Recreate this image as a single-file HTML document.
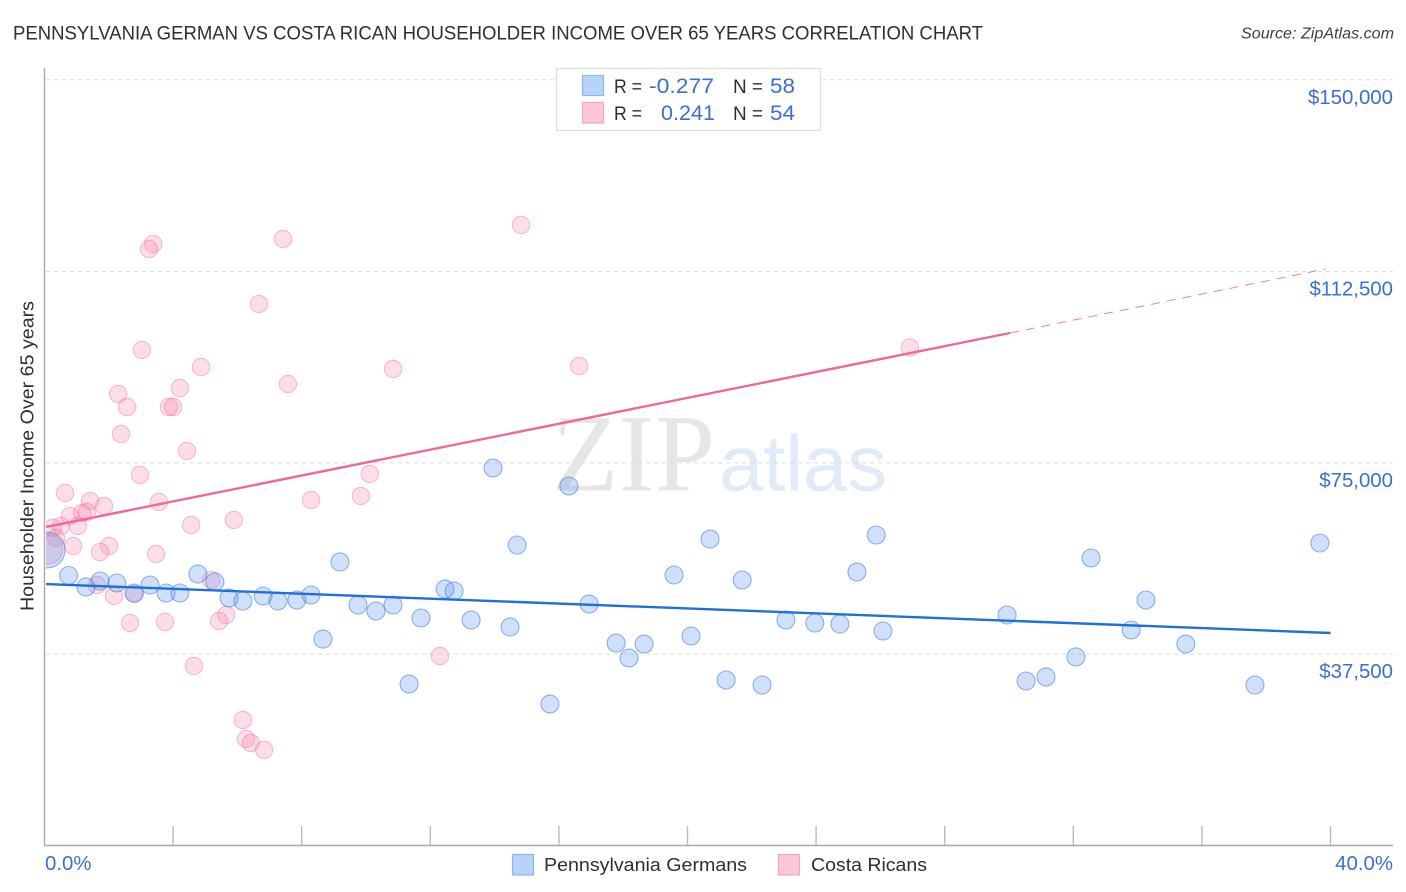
<!DOCTYPE html>
<html lang="en">
<head>
<meta charset="utf-8">
<title>Pennsylvania German vs Costa Rican Householder Income Over 65 Years Correlation Chart</title>
<style>
html,body{margin:0;padding:0;background:#fff;width:1406px;height:892px;overflow:hidden}
svg{display:block;font-family:"Liberation Sans",sans-serif}
</style>
</head>
<body>
<svg id="chart" xmlns="http://www.w3.org/2000/svg" width="1406" height="892" viewBox="0 0 1406 892">
  <defs><clipPath id="plot-clip"><rect x="46" y="60" width="1360" height="785"></rect></clipPath></defs>
  <text x="13" y="39.5" font-size="19.5" fill="#2b2f36" textLength="970" lengthAdjust="spacingAndGlyphs">PENNSYLVANIA GERMAN VS COSTA RICAN HOUSEHOLDER INCOME OVER 65 YEARS CORRELATION CHART</text>
  <text x="1241" y="38.5" font-size="15.5" font-style="italic" fill="#3a3f47" textLength="153" lengthAdjust="spacingAndGlyphs">Source: ZipAtlas.com</text>
  <g>
    <text x="552" y="490.5" font-family="'Liberation Serif',serif" font-size="110" fill="#e6e6e6" textLength="163" lengthAdjust="spacingAndGlyphs">ZIP</text>
    <text x="719" y="490.5" font-size="79" fill="#e1eaf8" textLength="168" lengthAdjust="spacingAndGlyphs">atlas</text>
  </g>
  <g id="grid"></g>
  <g id="axes"></g>
  <g id="points" clip-path="url(#plot-clip)"></g>
  <g id="trends"></g>
  <text transform="translate(33.5,456) rotate(-90)" text-anchor="middle" font-size="18.5" fill="#2b2f36" textLength="310" lengthAdjust="spacingAndGlyphs">Householder Income Over 65 years</text>
  <g>
    <rect x="556.5" y="68.5" width="264" height="62" fill="#fff" stroke="#dcdcdc" stroke-width="1.2"></rect>
    <rect x="582.5" y="75.5" width="21" height="20" fill="#b7d3f9" stroke="#8fb4ea" stroke-width="1.2"></rect>
    <rect x="582.5" y="102.5" width="21" height="20.5" fill="#fcc6d9" stroke="#f2a9c2" stroke-width="1.2"></rect>
    <text x="614" y="93" font-size="19" fill="#2b2f36" textLength="28" lengthAdjust="spacingAndGlyphs">R =</text>
    <text x="649" y="93" font-size="21" fill="#3a70d2" textLength="65" lengthAdjust="spacingAndGlyphs">-0.277</text>
    <text x="733" y="93" font-size="19" fill="#2b2f36" textLength="30" lengthAdjust="spacingAndGlyphs">N =</text>
    <text x="770" y="93" font-size="21" fill="#3a70d2" textLength="25" lengthAdjust="spacingAndGlyphs">58</text>
    <text x="614" y="120" font-size="19" fill="#2b2f36" textLength="28" lengthAdjust="spacingAndGlyphs">R =</text>
    <text x="661" y="120" font-size="21" fill="#3a70d2" textLength="54" lengthAdjust="spacingAndGlyphs">0.241</text>
    <text x="733" y="120" font-size="19" fill="#2b2f36" textLength="30" lengthAdjust="spacingAndGlyphs">N =</text>
    <text x="770" y="120" font-size="21" fill="#3a70d2" textLength="25" lengthAdjust="spacingAndGlyphs">54</text>
  </g>
  <g>
    <rect x="512.5" y="854.5" width="21" height="20.5" fill="#b7d3f9" stroke="#8fb4ea" stroke-width="1.2"></rect>
    <text x="544" y="871" font-size="18.5" fill="#2b2f36" textLength="203" lengthAdjust="spacingAndGlyphs">Pennsylvania Germans</text>
    <rect x="778.5" y="854.5" width="21" height="20.5" fill="#fcc6d9" stroke="#f2a9c2" stroke-width="1.2"></rect>
    <text x="811" y="871" font-size="18.5" fill="#2b2f36" textLength="116" lengthAdjust="spacingAndGlyphs">Costa Ricans</text>
  </g>
</svg>
<script>
const yTickValues = [37500, 75000, 112500, 150000];
const yTickLabels = ["$37,500", "$75,000", "$112,500", "$150,000"];
const xTickValues = [0, 4, 8, 12, 16, 20, 24, 28, 32, 36, 40];
const xEndLabels = ["0.0%", "40.0%"];

const blueX = [0.75,1.29,1.73,2.25,2.78,3.28,3.78,4.21,4.77,5.3,5.74,6.17,6.8,7.26,7.85,8.29,8.66,9.19,9.75,10.31,10.84,11.34,11.71,12.46,12.74,13.27,13.95,14.48,14.7,15.72,16.31,16.94,17.78,18.18,18.65,19.58,20.11,20.7,21.2,21.7,22.32,23.06,23.96,24.74,25.27,25.87,26.08,29.94,30.53,31.15,32.08,32.55,33.8,34.26,35.5,37.65,39.67];
const blueY = [52920,50670,51840,51450,49490,51060,49490,49490,53210,51650,48510,47920,48900,47920,48120,49100,40470,55570,47140,45960,47140,31650,44590,50270,49880,44200,73990,42830,58900,27730,70460,47330,39690,36750,39490,53020,41060,60070,32440,52040,31460,44200,43610,43410,53610,60860,42040,45180,32240,33030,36950,56350,42240,48120,39490,31460,59290];
const blueLargeX = [0.08];
const blueLargeY = [57920];

const pinkX = [14.82,7.42,3.38,3.25,6.67,3.03,26.92,4.87,10.84,16.63,7.57,4.21,2.29,2.57,3.87,4.0,2.38,4.43,2.97,10.12,0.64,3.56,1.42,1.85,8.29,9.84,1.17,1.32,0.79,5.89,4.56,1.04,0.51,0.26,0.36,0.89,2.01,1.73,3.47,1.63,5.18,2.16,2.81,5.65,5.43,2.66,3.75,12.3,4.65,6.17,6.27,6.42,6.83];
const pinkY = [121630,118870,117890,116910,106130,97120,97610,93790,93400,93990,90450,89670,88490,85940,85940,85940,80650,77320,72620,72820,69090,67330,67520,66540,67720,68500,65170,65370,64580,63800,62820,62620,62620,62230,60270,58700,58700,57530,57140,51060,52040,48900,49290,45180,44000,43610,43810,37140,35180,24600,20870,20090,18740];
const pinkLargeX = [0.1];
const pinkLargeY = [58110];

const blueTrendX = [0.05, 40];
const blueTrendY = [51250, 41650];
const pinkTrendX = [0.05, 30.03];
const pinkTrendY = [62430, 100450];
const pinkTrendDashedX = [30.03, 39.85];
const pinkTrendDashedY = [100450, 113000];

const NS = "http://www.w3.org/2000/svg";
function xScale(pct) { return 44.5 + pct * 32.15; }
function yScale(val) { return 845.5 - val / 196; }
function make(tag, parent, attrs) {
  const el = document.createElementNS(NS, tag);
  for (const k in attrs) el.setAttribute(k, attrs[k]);
  parent.appendChild(el);
  return el;
}
const grid = document.getElementById("grid");
const axes = document.getElementById("axes");
const points = document.getElementById("points");
const trends = document.getElementById("trends");

yTickValues.forEach(function (v) {
  const y = yScale(v) - (v === 150000 ? 0.5 : 0);
  const line = make("line", grid, {x1: 46, x2: 1393, y1: y, y2: y, stroke: "#dcdcdc", "stroke-width": 1, "stroke-dasharray": "4 4"});
  
  
});

const yAxisLine = make("line", axes, {x1: 44.5, x2: 44.5, y1: 68, y2: 846, stroke: "#aaaaaa", "stroke-width": 1.4});


const xAxisLine = make("line", axes, {x1: 44, x2: 1393, y1: 845.5, y2: 845.5, stroke: "#aaaaaa", "stroke-width": 1.4});



xTickValues.forEach(function (v) {
  const x = xScale(v);
  if (v === 0) return;
  const tick = make("line", axes, {x1: x, x2: x, y1: 826, y2: 845, stroke: "#bbbbbb", "stroke-width": 1.4});
  
  
});

yTickValues.forEach(function (v, i) {
  const t = make("text", axes, {x: 1393, y: yScale(v) + 24, "text-anchor": "end", "font-size": 20.4, fill: "#3a70d2"});
  t.textContent = yTickLabels[i];
  
  
});

const xLabelStart = make("text", axes, {x: 45, y: 870, "font-size": 20.4, fill: "#3a70d2"});
xLabelStart.textContent = xEndLabels[0];


const xLabelEnd = make("text", axes, {x: 1393, y: 870, "text-anchor": "end", "font-size": 20.4, fill: "#3a70d2"});
xLabelEnd.textContent = xEndLabels[1];



function drawPoints(xs, ys, r, fill, stroke, name) {
  xs.forEach(function (x, i) {
    const c = make("circle", points, {cx: xScale(x), cy: yScale(ys[i]), r: r, fill: fill, stroke: stroke, "stroke-width": 1.1});
    
    
  });
}
const pinkFill = "rgba(246,130,170,0.27)", pinkStroke = "rgba(236,110,150,0.42)";
const blueFill = "rgba(96,156,238,0.30)", blueStroke = "rgba(48,108,208,0.5)";
drawPoints(pinkX, pinkY, 8.7, pinkFill, pinkStroke, "point-costa-ricans");
drawPoints(pinkLargeX, pinkLargeY, 15, pinkFill, pinkStroke, "point-costa-ricans-large");
drawPoints(blueX, blueY, 9, blueFill, blueStroke, "point-pennsylvania-germans");
drawPoints(blueLargeX, blueLargeY, 18, blueFill, blueStroke, "point-pennsylvania-germans-large");

function drawTrend(xs, ys, color, width, dash, name) {
  const attrs = {x1: xScale(xs[0]), y1: yScale(ys[0]), x2: xScale(xs[1]), y2: yScale(ys[1]), stroke: color, "stroke-width": width};
  if (dash) attrs["stroke-dasharray"] = dash;
  const l = make("line", trends, attrs);
  
  
}
drawTrend(blueTrendX, blueTrendY, "#1f6fdc", 2.4, null, "trend-line-pennsylvania-germans");
drawTrend(pinkTrendX, pinkTrendY, "#ec6a95", 2.4, null, "trend-line-costa-ricans");
drawTrend(pinkTrendDashedX, pinkTrendDashedY, "#ec7fa3", 1, "9 7", "trend-line-costa-ricans-projection");
</script>
</body>
</html>
